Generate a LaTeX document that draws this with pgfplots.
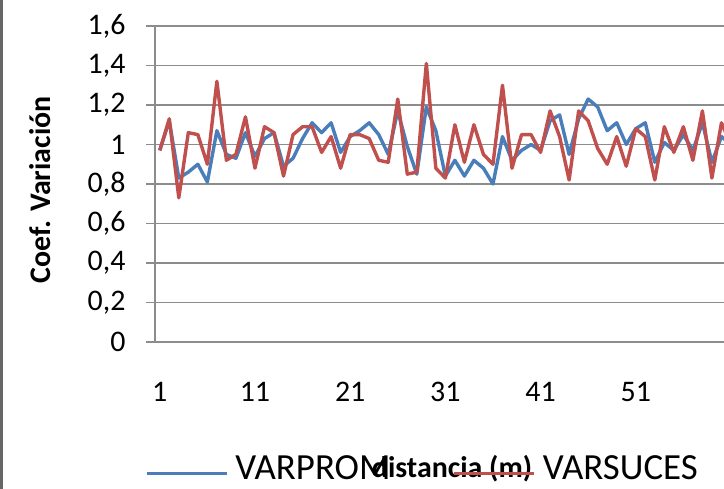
\documentclass[border=0pt]{standalone}
\usepackage{pgfplots}
\pgfplotsset{compat=1.18}
\usepackage{pgfplotstable}
\usepackage{fontspec}
\setmainfont{Carlito}
\definecolor{xblue}{HTML}{4A7EBB}
\definecolor{xred}{HTML}{C0504D}
\definecolor{gridc}{HTML}{8C8C8C}
\pgfplotstableread{
i blue red
1 0.97 0.97
2 1.12 1.13
3 0.83 0.73
4 0.86 1.06
5 0.90 1.05
6 0.81 0.90
7 1.07 1.32
8 0.95 0.92
9 0.93 0.95
10 1.06 1.14
11 0.94 0.88
12 1.03 1.09
13 1.06 1.06
14 0.89 0.84
15 0.93 1.05
16 1.03 1.09
17 1.11 1.09
18 1.06 0.96
19 1.11 1.04
20 0.96 0.88
21 1.04 1.05
22 1.07 1.05
23 1.11 1.03
24 1.05 0.92
25 0.95 0.91
26 1.17 1.23
27 0.99 0.85
28 0.85 0.86
29 1.19 1.41
30 1.07 0.88
31 0.84 0.83
32 0.92 1.10
33 0.84 0.91
34 0.92 1.10
35 0.88 0.95
36 0.80 0.90
37 1.04 1.30
38 0.92 0.88
39 0.97 1.05
40 1.00 1.05
41 0.97 0.96
42 1.12 1.17
43 1.15 1.04
44 0.95 0.82
45 1.13 1.17
46 1.23 1.12
47 1.19 0.98
48 1.07 0.90
49 1.11 1.04
50 1.00 0.89
51 1.08 1.08
52 1.11 1.04
53 0.91 0.82
54 1.01 1.09
55 0.97 0.96
56 1.05 1.09
57 0.97 0.92
58 1.11 1.17
59 0.91 0.83
60 1.04 1.11
61 1.00 1.00
}\datatable
\begin{document}
\begin{tikzpicture}[x=1bp,y=1bp]
\useasboundingbox (0,0) rectangle (724,489);
\fill[black!60] (0,0) rectangle (3,489);
\begin{axis}[
  at={(155bp,147bp)}, anchor=south west,
  scale only axis, width=569bp, height=316bp,
  xmin=0.5, xmax=60.27, ymin=0, ymax=1.6,
  axis x line*=bottom, axis y line*=left,
  axis line style={gridc, line width=1.3bp},
  ytick={0,0.2,...,1.6},
  ymajorgrids, grid style={gridc, line width=1.3bp},
  xtick={1,11,21,31,41,51},
  tick align=outside, major tick length=9bp,
  ytick style={gridc, line width=1.3bp},
  xtick style={draw=none},
  tick label style={font=\fontsize{30}{36}\selectfont, black},
  yticklabel style={xshift=-17bp},
  xticklabel style={yshift=-28bp},
  /pgf/number format/.cd, use comma, fixed, precision=1, assume math mode=true,
  /pgfplots/.cd,
  ylabel={\textbf{Coef. Variación}},
  ylabel style={font=\fontsize{30}{36}\selectfont, at={(axis description cs:-0.202,0.481)}, anchor=center, rotate=0},
  xlabel={\textbf{distancia (m)}},
  xlabel style={font=\fontsize{30}{36}\selectfont, at={(axis description cs:0.522,-0.40)}, anchor=center},
  legend columns=2,
  legend style={at={(axis description cs:-0.0176,-0.40)}, anchor=west, draw=none, fill=none, inner sep=0pt, outer sep=0pt,
    font=\fontsize{37}{42}\selectfont,
    /tikz/every even column/.append style={column sep=62bp},
    nodes={inner sep=0pt, outer sep=0pt}},
  legend image code/.code={\draw[#1, line width=3.4bp] (0bp,-5bp) -- (80bp,-5bp);},
  legend cell align=left,
]
\addplot[xblue, line width=3.4bp, line join=round] table[x=i, y=blue] {\datatable};
\addlegendentry{\hspace{7bp}VARPROM}
\addplot[xred, line width=3.4bp, line join=round] table[x=i, y=red] {\datatable};
\addlegendentry{\hspace{7bp}VARSUCES}
\end{axis}
\end{tikzpicture}
\end{document}
